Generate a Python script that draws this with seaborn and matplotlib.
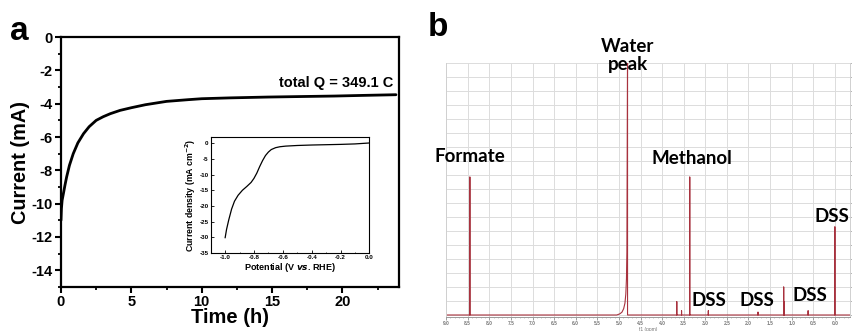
import numpy as np
import pandas as pd
import matplotlib
matplotlib.use("Agg")
import matplotlib.pyplot as plt
import seaborn as sns
from matplotlib.ticker import MultipleLocator, FormatStrFormatter

# ---- (a) chronoamperometry ----
time_h = [0.0, 0.03, 0.08, 0.17, 0.28, 0.4, 0.6, 0.87, 1.2, 1.6, 2.0, 2.5, 3.0,
          3.5, 4.2, 5.0, 6.0, 7.5, 9.0, 10.0, 12.0, 14.7, 17.0, 19.4, 21.5, 23.8]
current_mA = [-11.0, -10.3, -9.8, -9.4, -8.9, -8.4, -7.7, -7.0, -6.35, -5.8, -5.38,
              -5.0, -4.78, -4.6, -4.4, -4.24, -4.06, -3.86, -3.76, -3.7, -3.65,
              -3.6, -3.57, -3.54, -3.5, -3.46]
total_charge_C = 349.1

# inset: linear sweep voltammetry
potential_V = [-1.0, -0.99, -0.975, -0.955, -0.935, -0.91, -0.88, -0.85, -0.82,
               -0.80, -0.78, -0.76, -0.74, -0.72, -0.70, -0.68, -0.65, -0.62,
               -0.58, -0.5, -0.4, -0.3, -0.2, -0.1, 0.0]
current_density = [-30.2, -27.5, -24.5, -21.0, -18.5, -16.6, -15.0, -13.8, -12.5,
                   -11.2, -9.5, -7.4, -5.5, -3.9, -2.8, -2.0, -1.4, -1.1, -0.9,
                   -0.7, -0.55, -0.45, -0.35, -0.2, 0.1]

# ---- (b) 1H NMR peaks (ppm, intensity in grid units) ----
peak_ppm = [8.45, 4.80, 3.66, 3.55, 3.36, 2.93, 1.78, 1.185, 1.17, 0.62, 0.0]
peak_int = [9.86, 19.0, 0.95, 0.3, 9.86, 0.3, 0.2, 2.0, 0.93, 0.3, 6.3]
water_flank_ppm = [5.05, 4.98, 4.93, 4.89, 4.86, 4.84, 4.825, 4.815]
water_flank_int = [0.0, 0.08, 0.2, 0.45, 0.85, 1.5, 2.6, 4.5]

labels_b = ["Formate", "Water\npeak", "Methanol", "DSS", "DSS", "DSS", "DSS"]
label_pos_b = [(8.44, 10.7), (4.80, 18.55), (3.30, 10.6), (2.91, 0.45),
               (1.80, 0.45), (0.59, 0.8), (0.08, 6.45)]
label_va_b = ["bottom", "center", "bottom", "bottom", "bottom", "bottom", "bottom"]

# build a continuous stick trace for the spectrum
trace_x, trace_y = [9.0], [0.0]
for p, h in sorted(zip(peak_ppm, peak_int), key=lambda t: -t[0]):
    if p == 4.80:
        trace_x += water_flank_ppm + [p, p]
        trace_y += water_flank_int + [h, 0.0]
    else:
        trace_x += [p, p, p]
        trace_y += [0.0, h, 0.0]
trace_x.append(-0.36)
trace_y.append(0.0)
spectrum = pd.DataFrame({"ppm": trace_x, "intensity": trace_y})

sns.set_theme(style="ticks")
plt.rcParams["font.family"] = ["Liberation Sans", "DejaVu Sans"]
plt.rcParams["font.weight"] = "bold"
plt.rcParams["mathtext.default"] = "bf"
plt.rcParams["axes.unicode_minus"] = False
for key in ["text.color", "axes.labelcolor", "xtick.color", "ytick.color",
            "axes.edgecolor"]:
    plt.rcParams[key] = "black"

fig = plt.figure(figsize=(8.53, 3.31), dpi=100)

# ---------- panel a ----------
ax = fig.add_axes([0.0715, 0.133, 0.396, 0.755])
df_a = pd.DataFrame({"t": time_h, "I": current_mA})
sns.lineplot(data=df_a, x="t", y="I", ax=ax, color="black", lw=2.0,
             sort=False, estimator=None)
ax.set_xlim(0, 24)
ax.set_ylim(-15, 0)
ax.xaxis.set_major_locator(MultipleLocator(5))
ax.xaxis.set_minor_locator(MultipleLocator(2.5))
ax.yaxis.set_major_locator(MultipleLocator(2))
ax.yaxis.set_minor_locator(MultipleLocator(1))
for s in ax.spines.values():
    s.set_linewidth(1.6)
    s.set_visible(True)
ax.tick_params(which="major", direction="out", length=4, width=1.5,
               labelsize=10.5, pad=2)
ax.tick_params(which="minor", direction="out", length=2.5, width=1.3)
for lab in ax.get_xticklabels() + ax.get_yticklabels():
    lab.set_fontweight("bold")
ax.set_xlabel("Time (h)", fontsize=14.5, fontweight="bold", labelpad=-1)
ax.set_ylabel("Current (mA)", fontsize=14.3, fontweight="bold", labelpad=1)
ax.text(0.985, 0.80, f"total Q = {total_charge_C} C", transform=ax.transAxes,
        ha="right", va="baseline", fontsize=10.5, fontweight="bold")
fig.text(0.012, 0.905, "a", fontsize=24, fontweight="bold", va="center")

# inset
axi = fig.add_axes([0.247, 0.236, 0.186, 0.350])
df_i = pd.DataFrame({"E": potential_V, "j": current_density})
sns.lineplot(data=df_i, x="E", y="j", ax=axi, color="black", lw=0.9,
             sort=False, estimator=None)
axi.set_xlim(-1.1, 0.0)
axi.set_ylim(-35, 2)
axi.xaxis.set_major_locator(MultipleLocator(0.2))
axi.xaxis.set_minor_locator(MultipleLocator(0.1))
axi.yaxis.set_major_locator(MultipleLocator(5))
axi.xaxis.set_major_formatter(FormatStrFormatter("%.1f"))
for s in axi.spines.values():
    s.set_linewidth(0.8)
axi.tick_params(which="major", direction="in", length=2, width=0.6,
                labelsize=4.5, pad=1.5)
axi.tick_params(which="minor", direction="in", length=1, width=0.5)
axi.set_xlabel("Potential (V $\\it{vs}$. RHE)", fontsize=6.5,
               fontweight="bold", labelpad=1)
axi.set_ylabel("Current density (mA cm$^{-2}$)", fontsize=6.3,
               fontweight="bold", labelpad=1)

# ---------- panel b ----------
bx = fig.add_axes([0.523, 0.042, 0.474, 0.767])
sns.lineplot(data=spectrum, x="ppm", y="intensity", ax=bx, color="#a8323e",
             lw=0.8, sort=False, estimator=None)
bx.set_xlim(9.0, -0.36)
bx.set_ylim(-0.15, 18)
bx.xaxis.set_major_locator(MultipleLocator(0.5))
bx.xaxis.set_minor_locator(MultipleLocator(0.1))
bx.yaxis.set_major_locator(MultipleLocator(1))
bx.xaxis.set_major_formatter(FormatStrFormatter("%.1f"))
bx.grid(True, which="major", color="#dcdcdc", lw=0.7)
bx.set_axisbelow(True)
for name, s in bx.spines.items():
    s.set_color("#d0d0d0")
    s.set_linewidth(0.7)
bx.spines["bottom"].set_color("#9a9a9a")
bx.spines["top"].set_visible(False)
bx.tick_params(axis="x", which="major", direction="out", length=2, width=0.5,
               colors="#777777", labelsize=3.5, pad=1)
bx.tick_params(axis="x", which="minor", direction="out", length=1, width=0.4,
               colors="#999999")
bx.tick_params(axis="y", which="major", left=False, right=True, labelleft=False,
               direction="out", length=2, width=0.6, colors="#aaaaaa")
bx.set_xlabel("f1 (ppm)", fontsize=3.5, color="#777777", labelpad=0.5)
bx.set_ylabel("")

for text, (px, py), va in zip(labels_b, label_pos_b, label_va_b):
    bx.text(px, py, text, fontsize=13.5, fontweight="bold", ha="center",
            va=va, family=["Lato", "DejaVu Sans"], linespacing=1.05)

fig.text(0.502, 0.918, "b", fontsize=24, fontweight="bold", va="center")

fig.savefig("out.png", dpi=100)
